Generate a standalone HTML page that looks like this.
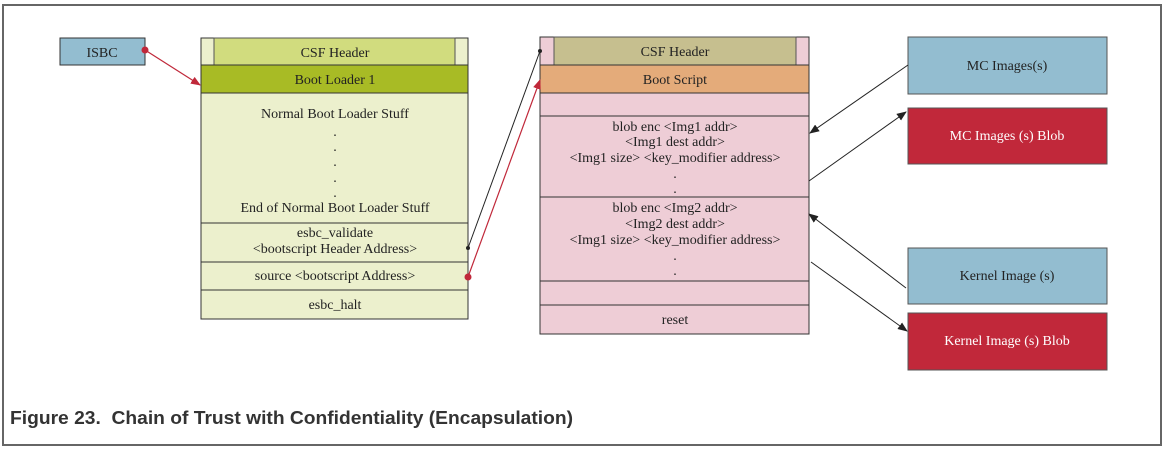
<!DOCTYPE html>
<html><head><meta charset="utf-8"><style>
body{margin:0;background:#fff;width:1167px;height:450px;overflow:hidden}
svg text{font-family:"Liberation Serif",serif;font-size:14px;fill:#222;text-anchor:middle}
</style></head><body>
<svg width="1167" height="450" xmlns="http://www.w3.org/2000/svg">
<defs>
<marker id="ar" markerWidth="10" markerHeight="8" refX="9" refY="4" orient="auto" markerUnits="userSpaceOnUse"><path d="M0,0 L10,4 L0,8 Z" fill="#c0283a"/></marker>
<marker id="ab" markerWidth="10" markerHeight="8" refX="9" refY="4" orient="auto" markerUnits="userSpaceOnUse"><path d="M0,0 L10,4 L0,8 Z" fill="#222"/></marker>
</defs>
<rect x="3" y="5" width="1158" height="440" fill="#fff" stroke="#666" stroke-width="2"/>
<text x="10" y="424" textLength="563" lengthAdjust="spacingAndGlyphs" style="font-family:'Liberation Sans',sans-serif;font-size:18px;font-weight:bold;text-anchor:start;fill:#333;white-space:pre">Figure 23.  Chain of Trust with Confidentiality (Encapsulation)</text>

<!-- ISBC -->
<rect x="60" y="38" width="85" height="27" fill="#93bdd0" stroke="#333"/>
<text x="102" y="57">ISBC</text>

<!-- left block -->
<rect x="201" y="38" width="267" height="281" fill="#ecf0cd" stroke="#333"/>
<rect x="214" y="38" width="241" height="27" fill="#d1dc7e" stroke="#555"/>
<text x="335" y="57">CSF Header</text>
<rect x="201" y="65" width="267" height="28" fill="#a8bb25" stroke="#333"/>
<text x="335" y="84">Boot Loader 1</text>
<text x="335" y="118">Normal Boot Loader Stuff</text>
<text x="335" y="136">.</text><text x="335" y="151">.</text><text x="335" y="166">.</text><text x="335" y="182">.</text><text x="335" y="197">.</text>
<text x="335" y="212">End of Normal Boot Loader Stuff</text>
<line x1="201" y1="223" x2="468" y2="223" stroke="#333"/>
<text x="335" y="237">esbc_validate</text>
<text x="335" y="253">&lt;bootscript Header Address&gt;</text>
<line x1="201" y1="262" x2="468" y2="262" stroke="#333"/>
<text x="335" y="280">source &lt;bootscript Address&gt;</text>
<line x1="201" y1="290" x2="468" y2="290" stroke="#333"/>
<text x="335" y="309">esbc_halt</text>

<!-- right block -->
<rect x="540" y="37" width="269" height="297" fill="#eecdd6" stroke="#333"/>
<rect x="554" y="37" width="242" height="28" fill="#c6bf8f" stroke="#555"/>
<text x="675" y="56">CSF Header</text>
<rect x="540" y="65" width="269" height="28" fill="#e4ab7a" stroke="#333"/>
<text x="675" y="84">Boot Script</text>
<line x1="540" y1="116" x2="809" y2="116" stroke="#333"/>
<text x="675" y="131">blob enc &lt;Img1 addr&gt;</text>
<text x="675" y="146">&lt;Img1 dest addr&gt;</text>
<text x="675" y="162">&lt;Img1 size&gt; &lt;key_modifier address&gt;</text>
<text x="675" y="178">.</text><text x="675" y="193">.</text>
<line x1="540" y1="197" x2="809" y2="197" stroke="#333"/>
<text x="675" y="212">blob enc &lt;Img2 addr&gt;</text>
<text x="675" y="228">&lt;Img2 dest addr&gt;</text>
<text x="675" y="244">&lt;Img1 size&gt; &lt;key_modifier address&gt;</text>
<text x="675" y="260">.</text><text x="675" y="275">.</text>
<line x1="540" y1="281" x2="809" y2="281" stroke="#333"/>
<line x1="540" y1="305" x2="809" y2="305" stroke="#333"/>
<text x="675" y="324">reset</text>

<!-- right boxes -->
<rect x="908" y="37" width="199" height="57" fill="#93bdd0" stroke="#555"/>
<text x="1007" y="70">MC Images(s)</text>
<rect x="908" y="108" width="199" height="56" fill="#c1283a" stroke="#555"/>
<text x="1007" y="140" style="fill:#fff">MC Images (s) Blob</text>
<rect x="908" y="248" width="199" height="56" fill="#93bdd0" stroke="#555"/>
<text x="1007" y="280">Kernel Image (s)</text>
<rect x="908" y="313" width="199" height="57" fill="#c1283a" stroke="#555"/>
<text x="1007" y="345" style="fill:#fff">Kernel Image (s) Blob</text>

<!-- connectors -->
<line x1="145" y1="50" x2="200" y2="85" stroke="#c0283a" stroke-width="1.2" marker-end="url(#ar)"/>
<circle cx="145" cy="50" r="3.5" fill="#c0283a"/>
<line x1="468" y1="248" x2="540" y2="51" stroke="#222" stroke-width="1"/>
<circle cx="468" cy="248" r="2" fill="#222"/><circle cx="540" cy="51" r="2" fill="#222"/>
<line x1="468" y1="277" x2="540" y2="80" stroke="#c0283a" stroke-width="1.2" marker-end="url(#ar)"/>
<circle cx="468" cy="277" r="3.5" fill="#c0283a"/>
<line x1="908" y1="65" x2="810" y2="133" stroke="#222" marker-end="url(#ab)"/>
<line x1="809" y1="181" x2="906" y2="112" stroke="#222" marker-end="url(#ab)"/>
<line x1="906" y1="288" x2="809" y2="214" stroke="#222" marker-end="url(#ab)"/>
<line x1="811" y1="262" x2="907" y2="331" stroke="#222" marker-end="url(#ab)"/>
</svg>
</body></html>
